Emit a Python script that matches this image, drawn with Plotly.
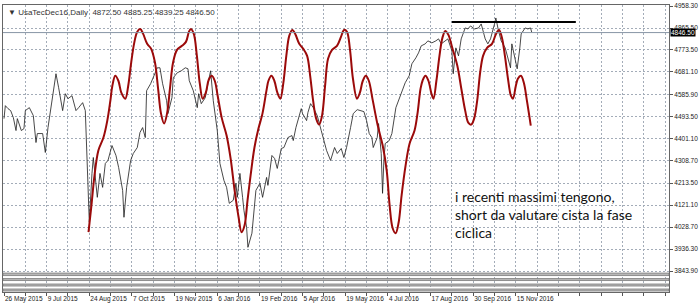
import plotly.graph_objects as go

# ---------------- data ----------------
date_labels = ["26 May 2015", "9 Jul 2015", "24 Aug 2015", "7 Oct 2015", "19 Nov 2015",
               "6 Jan 2016", "19 Feb 2016", "5 Apr 2016", "19 May 2016", "4 Jul 2016",
               "17 Aug 2016", "30 Sep 2016", "15 Nov 2016"]
bars_per_label = 32

y_ticks = [4958.30, 4865.50, 4773.50, 4681.10, 4585.90, 4493.50, 4401.10,
           4308.70, 4213.50, 4121.10, 4028.70, 3936.30, 3843.90]

price_bar = [0, 1, 3, 5, 7, 9, 10, 13, 15, 16, 19, 22, 24, 25, 29, 31, 33, 35, 39, 41,
             44, 46, 48, 51, 54, 56, 59, 61, 63, 64, 66, 67, 70, 72, 74, 76, 78, 81, 84, 86,
             89, 90, 92, 95, 97, 100, 102, 104, 106, 107, 110, 112, 115, 117, 119, 122, 123, 126, 127, 130,
             133, 136, 138, 139, 142, 145, 146, 148, 151, 153, 155, 157, 160, 162, 163, 165, 167, 169, 172, 174,
             175, 177, 179, 180, 182, 183, 186, 189, 192, 194, 197, 198, 201, 203, 205, 208, 210, 213, 216, 217,
             219, 221, 223, 224, 227, 228, 230, 232, 235, 238, 240, 242, 245, 248, 250, 253, 255, 257, 260, 262,
             265, 268, 270, 272, 274, 276, 277, 280, 281, 283, 284, 285, 286, 289, 291, 294, 296, 298, 301, 304,
             306, 309, 311, 313, 316, 318, 321, 324, 326, 328, 331, 333, 336, 337, 339, 341, 343, 346, 348, 350,
             353, 356, 358, 361, 363, 365, 368, 369, 371, 373, 376, 378, 380, 381, 384, 385, 387, 388, 391, 393,
             395, 396]
price_close = [4484.8, 4539.3, 4526.7, 4518.4, 4489.0, 4434.6, 4484.8, 4434.6, 4442.9, 4518.4,
               4530.9, 4497.4, 4384.3, 4422.0, 4422.0, 4342.4, 4447.1, 4526.7, 4673.4, 4614.7,
               4518.4, 4589.6, 4568.6, 4581.2, 4518.4, 4530.9, 4551.9, 4518.4, 4254.4, 4049.1,
               4254.4, 4321.4, 4153.8, 4254.4, 4195.7, 4296.2, 4308.9, 4371.7, 4329.8, 4279.5,
               4183.2, 4070.0, 4195.7, 4308.9, 4338.2, 4363.3, 4426.2, 4447.1, 4405.2, 4602.2,
               4631.5, 4656.6, 4698.5, 4698.5, 4631.5, 4560.3, 4505.8, 4572.8, 4656.6, 4677.6,
               4685.9, 4698.5, 4694.3, 4644.0, 4602.2, 4530.9, 4589.6, 4547.7, 4572.8, 4631.5,
               4685.9, 4560.3, 4434.6, 4296.2, 4275.3, 4225.0, 4195.7, 4128.7, 4141.3, 4212.5,
               4153.8, 4254.4, 4153.8, 4099.4, 4028.1, 3943.7, 4003.0, 4183.2, 4212.5, 4153.8,
               4237.6, 4204.1, 4329.8, 4317.3, 4275.3, 4359.1, 4363.3, 4405.2, 4413.6, 4392.6,
               4447.1, 4484.8, 4526.7, 4505.8, 4476.5, 4510.0, 4547.7, 4530.9, 4497.4, 4434.6,
               4392.6, 4350.8, 4308.9, 4363.3, 4338.2, 4359.1, 4321.4, 4363.3, 4447.1, 4505.8,
               4522.5, 4518.4, 4514.2, 4476.5, 4422.0, 4405.2, 4363.3, 4405.2, 4463.9, 4338.2,
               4170.6, 4308.9, 4380.1, 4392.6, 4422.0, 4530.9, 4560.3, 4589.6, 4635.7, 4665.0,
               4715.3, 4740.4, 4761.4, 4790.7, 4799.1, 4811.7, 4803.3, 4811.7, 4820.0, 4799.1,
               4811.7, 4820.0, 4769.8, 4673.4, 4782.3, 4748.8, 4820.0, 4866.1, 4861.9, 4874.5,
               4861.9, 4866.1, 4882.9, 4820.0, 4799.1, 4820.0, 4882.9, 4908.0, 4853.6, 4811.7,
               4782.3, 4740.4, 4698.5, 4799.1, 4715.3, 4694.3, 4782.3, 4841.0, 4866.1, 4861.9,
               4866.1, 4846.5]

cycle_bar = [63.4, 65.6, 67.9, 70.8, 74.6, 77.5, 79.8, 81.3, 83.5, 85.8,
             88.0, 91.0, 93.2, 95.4, 97.7, 99.9, 102.2, 104.4, 107.4, 110.4,
             113.3, 115.6, 117.8, 120.1, 122.3, 124.5, 126.8, 129.8, 133.5, 136.5,
             138.7, 140.2, 142.4, 144.7, 146.9, 149.1, 151.4, 153.6, 155.9, 158.1,
             160.3, 163.3, 167.0, 170.0, 173.0, 176.0, 178.2, 180.5, 182.7, 185.0,
             187.9, 190.9, 193.9, 196.9, 198.4, 200.6, 202.8, 205.1, 207.3, 209.5,
             211.8, 214.0, 216.3, 218.5, 221.5, 224.5, 227.4, 229.7, 231.9, 234.2,
             236.4, 238.6, 240.9, 243.1, 246.1, 249.8, 252.8, 255.1, 257.3, 259.5,
             261.8, 264.8, 267.0, 269.2, 271.5, 273.7, 276.7, 280.4, 284.1, 287.1,
             289.3, 291.6, 293.8, 296.1, 298.3, 301.3, 304.3, 308.0, 310.2, 312.5,
             314.0, 316.2, 318.4, 320.7, 322.2, 324.4, 326.7, 328.9, 331.1, 333.4,
             336.3, 340.1, 343.1, 346.0, 348.3, 350.5, 352.7, 355.0, 357.2, 359.4,
             362.4, 366.1, 369.1, 371.4, 373.6, 375.8, 378.1, 380.3, 381.8, 384.0,
             385.5, 387.8, 390.0, 392.3, 395.2]
cycle_value = [4007.2, 4120.3, 4246.0, 4350.8, 4405.2, 4476.5, 4560.3, 4623.1, 4665.0, 4644.0,
               4593.8, 4568.6, 4623.1, 4719.5, 4803.3, 4849.4, 4861.9, 4841.0, 4799.1, 4778.1,
               4719.5, 4610.5, 4505.8, 4463.9, 4505.8, 4610.5, 4719.5, 4773.9, 4790.7, 4807.5,
               4849.4, 4861.9, 4841.0, 4748.8, 4631.5, 4568.6, 4593.8, 4648.2, 4665.0, 4644.0,
               4581.2, 4489.0, 4413.6, 4317.3, 4183.2, 4070.0, 4007.2, 4036.5, 4141.3, 4246.0,
               4363.3, 4442.9, 4505.8, 4602.2, 4644.0, 4665.0, 4644.0, 4593.8, 4568.6, 4631.5,
               4748.8, 4832.6, 4857.7, 4841.0, 4799.1, 4778.1, 4748.8, 4665.0, 4560.3, 4484.8,
               4459.7, 4497.4, 4623.1, 4736.3, 4773.9, 4790.7, 4828.4, 4857.7, 4849.4, 4778.1,
               4652.4, 4568.6, 4593.8, 4644.0, 4665.0, 4644.0, 4560.3, 4455.5, 4371.7, 4267.0,
               4120.3, 4023.9, 4003.0, 4049.1, 4162.2, 4287.9, 4380.1, 4434.6, 4505.8, 4610.5,
               4644.0, 4665.0, 4644.0, 4589.6, 4568.6, 4644.0, 4748.8, 4824.2, 4853.6, 4836.8,
               4782.3, 4706.9, 4610.5, 4518.4, 4468.1, 4459.7, 4484.8, 4560.3, 4677.6, 4748.8,
               4782.3, 4799.1, 4841.0, 4857.7, 4824.2, 4748.8, 4652.4, 4581.2, 4568.6, 4623.1,
               4652.4, 4665.0, 4635.7, 4560.3, 4455.5]

resist_bars = [336, 429]
resist_level = 4891.0
last_price = 4846.50
title_text = "▼ UsaTecDec16,Daily  4872.50 4885.25 4839.25 4846.50"
note_text = "i recenti massimi tengono,<br>short da valutare cista la fase<br>ciclica"
note_bar = 337
note_top = 4200.0

# ---------------- figure ----------------
grid_col = "#A3ACB8"
fig = go.Figure()
fig.add_trace(go.Scatter(x=price_bar, y=price_close, mode="lines",
                         line=dict(color="#1a1a1a", width=0.8), hoverinfo="skip"))
fig.add_trace(go.Scatter(x=cycle_bar, y=cycle_value, mode="lines",
                         line=dict(color="#9B0A0A", width=2, shape="spline", smoothing=1.0),
                         hoverinfo="skip"))
fig.add_trace(go.Scatter(x=resist_bars, y=[resist_level, resist_level], mode="lines",
                         line=dict(color="#000000", width=2.2), hoverinfo="skip"))

n_grid = 32
tickvals = [i * bars_per_label // 2 for i in range(n_grid)]
ticktext = []
for i in range(n_grid):
    if i % 2 == 0 and i // 2 < len(date_labels):
        ticktext.append(date_labels[i // 2])
    else:
        ticktext.append("")

fig.update_layout(
    width=700, height=305,
    margin=dict(l=2, r=28, t=4, b=13),
    paper_bgcolor="white", plot_bgcolor="white",
    showlegend=False,
    font=dict(family="Liberation Sans", size=7, color="#222222"),
    xaxis=dict(range=[-0.75, 498.9], tickvals=tickvals, ticktext=ticktext,
               tickangle=0,
               showgrid=True, gridcolor=grid_col, griddash="2px,2px", gridwidth=1,
               ticks="outside", ticklen=3, tickcolor="#555555",
               ticklabelposition="outside right",
               showline=True, linecolor="#666666", linewidth=1, mirror=True,
               zeroline=False, tickfont=dict(size=6.5)),
    yaxis=dict(range=[3755.8, 4962.5], side="right", tickvals=y_ticks,
               ticktext=[f"{v:.2f}" for v in y_ticks],
               showgrid=True, gridcolor=grid_col, griddash="2px,2px", gridwidth=1,
               ticks="outside", ticklen=3, tickcolor="#555555",
               showline=True, linecolor="#666666", linewidth=1, mirror=True,
               zeroline=False, tickfont=dict(size=6.5)),
)

# bid line
fig.add_shape(type="line", xref="paper", x0=0, x1=1, y0=last_price, y1=last_price,
              line=dict(color="#8795A5", width=1))

# collapsed indicator sub-windows strips
strip_bands = [(273, 275.5), (278.5, 280.5), (284, 286), (289, 291)]
for top, bot in strip_bands:
    fig.add_shape(type="rect", xref="paper", yref="paper", x0=0, x1=1,
                  y0=(292 - bot) / 288, y1=(292 - top) / 288,
                  line=dict(color="#7A7A7A", width=0.8), fillcolor="#B8B8B8")

fig.add_annotation(xref="paper", x=1.0, y=last_price, text=f"{last_price:.2f}",
                   showarrow=False, xanchor="left", yanchor="middle", xshift=1,
                   bgcolor="#000000", font=dict(color="white", size=6.5, family="Liberation Sans"),
                   borderpad=0)
fig.add_annotation(xref="paper", yref="paper", x=0.004, y=1.0, xanchor="left", yanchor="top",
                   yshift=-1, text=title_text, showarrow=False,
                   font=dict(size=8, color="#333333", family="Liberation Sans"))
fig.add_annotation(x=note_bar, y=note_top, xanchor="left", yanchor="top", text=note_text,
                   showarrow=False, align="left",
                   font=dict(size=14, color="#111111", family="Lato"))

fig.write_html("out.html")
